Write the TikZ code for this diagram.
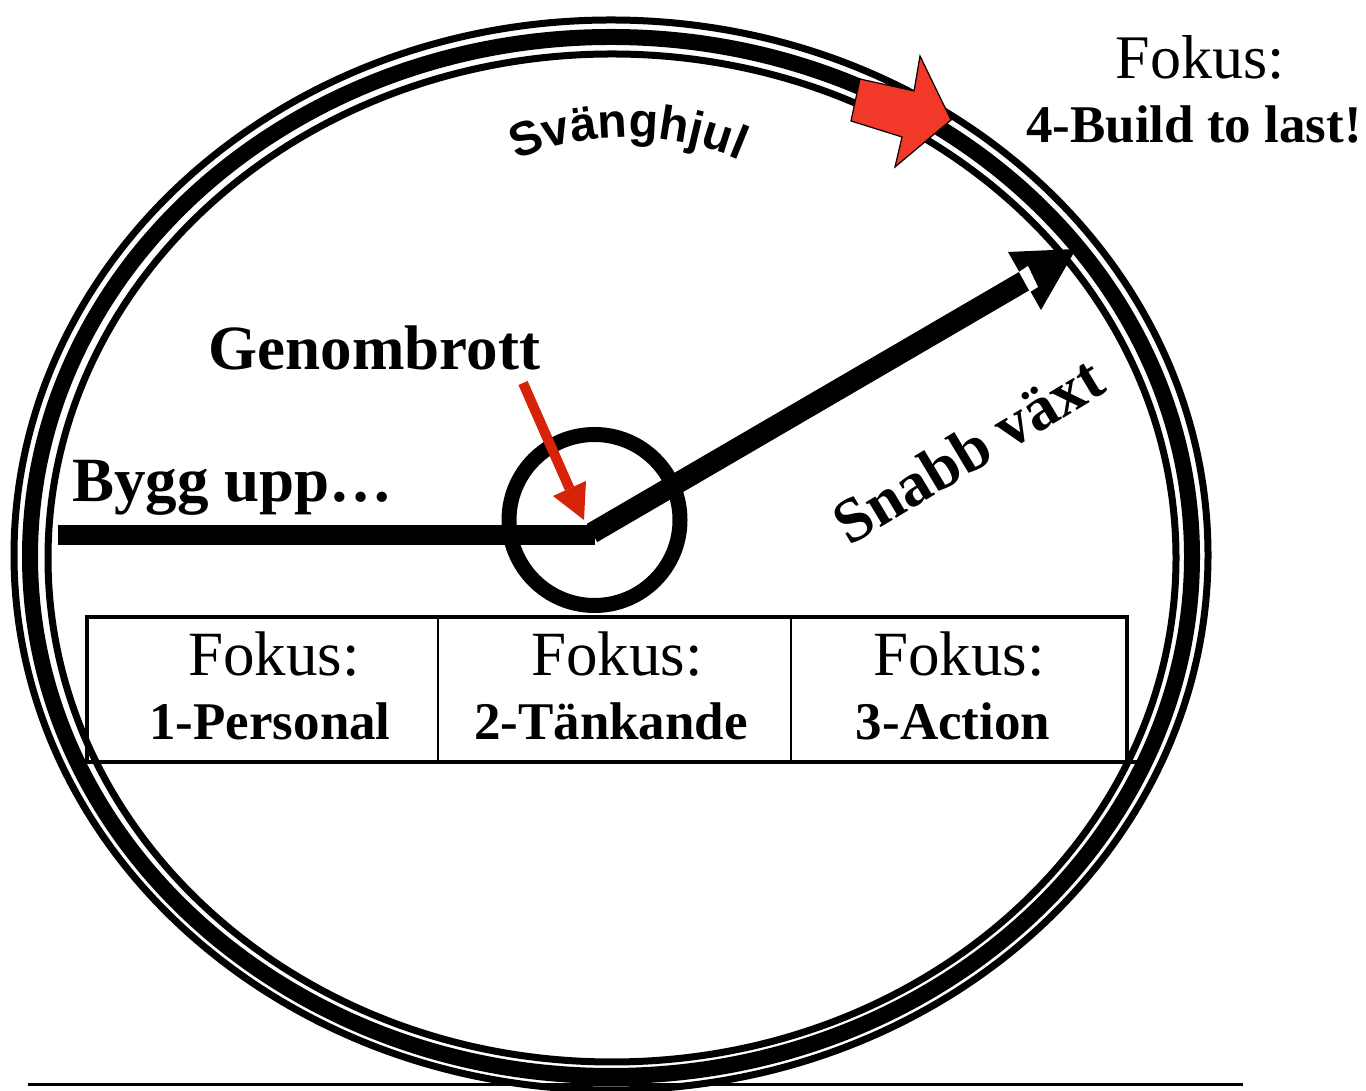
\documentclass[tikz,border=0pt]{standalone}
\usepackage{fontspec}
\setmainfont{Liberation Serif}
\newfontfamily\svfont{Liberation Sans}
\usetikzlibrary{decorations.text}
\definecolor{darkred}{RGB}{214,34,8}
\definecolor{blockred}{RGB}{242,56,40}
\begin{document}
\begin{tikzpicture}[x=0.5pt,y=0.5pt,
  lbl/.style={inner sep=0pt, outer sep=0pt, anchor=base},
  bigreg/.style={lbl, font=\fontsize{31.5}{36}\selectfont},
  bigbold/.style={lbl, font=\bfseries\fontsize{31.5}{36}\selectfont},
  midbold/.style={lbl, font=\bfseries\fontsize{26.5}{30}\selectfont},
  thinring/.style={draw=black, line width=3.5pt},
  thickring/.style={draw=black, line width=8pt},
  bar/.style={draw=black, line width=10.5pt},
  boxline/.style={draw=black, line width=2.25pt},
  divline/.style={draw=black, line width=1.2pt}]
\useasboundingbox (0,0) rectangle (1366,1091);
\fill[white] (0,0) rectangle (1366,1091);

% flywheel rings
\path[thinring] (611,536) ellipse [x radius=298.5pt, y radius=267.5pt];
\path[thickring] (611,534.5) ellipse [x radius=290.5pt, y radius=259.75pt];
\path[thinring] (612,533) ellipse [x radius=282pt, y radius=252pt];

% bottom rule
\coordinate (blL) at (28,6);
\coordinate (blR) at (1243,6);
\draw[line width=1.5pt] (blL) -- (blR);

% focus boxes
\coordinate (boxSW) at (87,329);
\coordinate (boxNE) at (1127,474);
\draw[boxline] (boxSW) rectangle (boxNE);
\coordinate (boxBR) at (1141,329);
\draw[boxline] (boxSW) -- (boxBR);
\coordinate (d1t) at (438,474); \coordinate (d1b) at (438,329);
\coordinate (d2t) at (791,474); \coordinate (d2b) at (791,329);
\draw[divline] (d1t) -- (d1b);
\draw[divline] (d2t) -- (d2b);
\node[bigreg] (f1) at (274,415) {Fokus:};
\node[bigreg] (f2) at (617,415) {Fokus:};
\node[bigreg] (f3) at (959,415) {Fokus:};
\node[midbold] (s1) at (270,351) {1-Personal};
\node[midbold] (s2) at (611,351) {2-Tänkande};
\node[midbold] (s3) at (953,351) {3-Action};

% hub circle
\node[circle, draw=black, line width=7.5pt, minimum size=85.5pt, inner sep=0pt] (hub) at (594.5,571) {};

% path: build-up bar and growth arrow
\coordinate (barL) at (58,556);
\coordinate (barR) at (595,556);
\draw[bar, line width=10pt] (barL) -- (barR);
\coordinate (bend) at (592,558);
\coordinate (hbase) at (1024.5,810);
\coordinate (htip) at (1076,842);
\coordinate (hc1) at (1008,839);
\coordinate (hc2) at (1041,781);
\draw[bar] (bend) -- (hbase);
\fill[black] (htip) -- (hc1) -- (hc2) -- cycle;
% small white notch on the shaft
\coordinate (n1) at (1019,819);
\coordinate (n2) at (1028,825);
\coordinate (n3) at (1038,804);
\coordinate (n4) at (1030,799);
\fill[white] (n1) -- (n2) -- (n3) -- (n4) -- cycle;

% red pointer to breakthrough
\coordinate (gstart) at (523,708);
\coordinate (gbase) at (569.5,602.5);
\coordinate (gtip) at (584,571);
\coordinate (gc1) at (553,595);
\coordinate (gc2) at (586,610);
\draw[darkred, line width=5pt] (gstart) -- (gbase);
\fill[darkred] (gtip) -- (gc1) -- (gc2) -- cycle;

% red block arrow at top
\coordinate (ra1) at (860,1012);
\coordinate (ra2) at (914,1000);
\coordinate (ra3) at (920,1035);
\coordinate (ra4) at (951,971);
\coordinate (ra5) at (895,924);
\coordinate (ra6) at (902,954);
\coordinate (ra7) at (851,970);
\filldraw[fill=blockred, draw=black, line width=0.6pt, line join=miter]
  (ra1) -- (ra2) -- (ra3) -- (ra4) -- (ra5) -- (ra6) -- (ra7) -- cycle;

% texts
\node[bigbold] (genom) at (374.5,721) {Genombrott};
\node[bigbold] (bygg) at (232.5,589) {Bygg upp…};
\node[bigbold, rotate=31] (snabb) at (979,622) {Snabb växt};
\node[bigreg, font=\fontsize{31}{36}\selectfont] (fok4) at (1200,1012) {Fokus:};
\node[midbold] (build) at (1194,948) {4-Build to last!};

% curved label
\path[decorate, decoration={text along path, text align=center,
   text={|\svfont\bfseries\fontsize{24}{24}\selectfont|Svänghjul}}]
   (467.4,903.4) arc[start angle=125, end angle=55, radius=140pt];
\end{tikzpicture}
\end{document}
